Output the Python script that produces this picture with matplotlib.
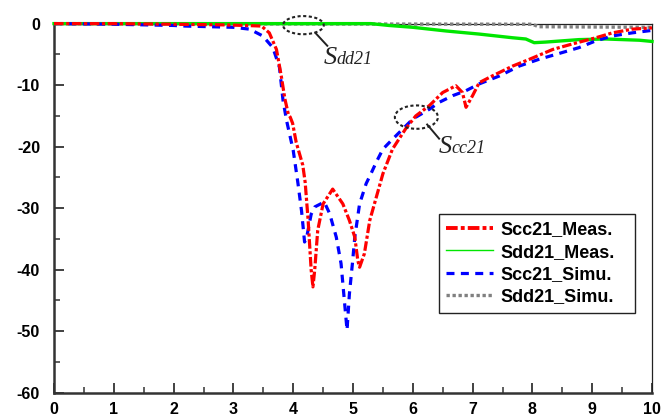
"""Mixed-mode insertion loss: measured vs simulated Scc21 / Sdd21."""

import matplotlib
matplotlib.use('Agg')
import matplotlib.pyplot as plt
from matplotlib.lines import Line2D
from matplotlib.patches import Ellipse
from matplotlib.ticker import MultipleLocator

# Scc21 measured (red dash-dot)
scc_meas_x = [0, 1, 2, 2.8, 3.2, 3.47, 3.6, 3.72, 3.80, 3.86, 3.92, 3.95, 3.99, 4.05,
              4.16, 4.2, 4.25, 4.3, 4.33, 4.36, 4.41, 4.5, 4.66, 4.83, 4.94, 5.03,
              5.08, 5.11, 5.19, 5.28, 5.39, 5.50, 5.66, 5.88, 6.05, 6.28, 6.5, 6.72,
              6.83, 6.89, 7.0, 7.11, 7.33, 7.67, 7.95, 8.34, 8.67, 9.06, 9.34, 9.67, 10]
scc_meas_y = [0, 0, -0.1, -0.2, -0.3, -0.4, -1.5, -4.2, -8.5, -12.2, -14.8, -15.2, -16.2, -19.3,
              -23, -25.8, -32, -40, -42.8, -40, -33.6, -29.3, -26.9, -29.3, -32, -34.7,
              -38.5, -39.6, -37.4, -32, -28.2, -24.4, -20.4, -17.1, -15, -13.3, -11.2, -10.1,
              -11.2, -13.6, -11.7, -9.6, -8.5, -6.9, -5.8, -4.2, -3.3, -2.3, -1.5, -0.9, -0.7]

# Sdd21 measured (green solid)
sdd_meas_x = [0, 5.3, 5.6, 6.0, 6.56, 7.11, 7.67, 7.89, 8.03, 8.22, 8.78, 9.23, 9.79, 10]
sdd_meas_y = [0, 0, -0.3, -0.6, -1.2, -1.7, -2.3, -2.5, -3.1, -3.0, -2.6, -2.5, -2.7, -2.9]

# Scc21 simulated (blue dashed)
scc_simu_x = [0, 1, 2, 2.2, 3.0, 3.27, 3.49, 3.66, 3.77, 3.83, 3.89, 4.0, 4.08, 4.14,
              4.19, 4.22, 4.3, 4.36, 4.52, 4.61, 4.72, 4.80, 4.86, 4.90, 4.94, 4.99,
              5.03, 5.11, 5.22, 5.30, 5.39, 5.5, 5.66, 6.0, 6.28, 6.44, 6.67, 6.89,
              7.11, 7.45, 7.78, 8.11, 8.5, 8.78, 9.06, 9.34, 9.67, 10]
scc_simu_y = [0, -0.1, -0.3, -0.4, -0.6, -0.9, -2, -3.9, -7.1, -12.5, -15.8, -20.6, -26, -30.5,
              -35.5, -35, -31, -29.8, -29, -30.9, -34.7, -39, -45.5, -49.8, -43.9, -39,
              -34.7, -29.3, -26, -24.4, -22.5, -20.4, -18.8, -15.5, -13.9, -12.8, -11.7, -10.9,
              -9.8, -8.5, -6.9, -5.8, -4.7, -3.9, -2.8, -2.0, -1.5, -1.1]

# Sdd21 simulated (grey dotted)
sdd_simu_x = [0, 8.0, 8.1, 10]
sdd_simu_y = [0, -0.1, -0.5, -0.6]

legend_labels = ['Scc21_Meas.', 'Sdd21_Meas.', 'Scc21_Simu.', 'Sdd21_Simu.']

RED = '#ff0000'
GREEN = '#00e600'
BLUE = '#0000ff'
GREY = '#808080'
INK = '#222222'

plt.rcParams['font.family'] = ['Liberation Sans', 'DejaVu Sans']
plt.rcParams['axes.unicode_minus'] = False

fig = plt.figure(figsize=(6.61, 4.18), dpi=100)
ax = fig.add_axes([0.0817, 0.0605, 0.9047, 0.883])

ax.plot(sdd_simu_x, sdd_simu_y, color=GREY, lw=2.4, dashes=(1, 0.8), clip_on=False, zorder=3)
ax.plot(sdd_meas_x, sdd_meas_y, color=GREEN, lw=2.4, clip_on=False, zorder=3)
ax.plot(scc_simu_x, scc_simu_y, color=BLUE, lw=2.3, dashes=(2.5, 2), clip_on=False, zorder=4)
ax.plot(scc_meas_x, scc_meas_y, color=RED, lw=2.3, dashes=(3, 0.8, 1, 0.8), clip_on=False, zorder=5)

ax.set_xlim(0, 10)
ax.set_ylim(-60, 0)
ax.xaxis.set_major_locator(MultipleLocator(1))
ax.xaxis.set_minor_locator(MultipleLocator(0.5))
ax.yaxis.set_major_locator(MultipleLocator(10))
ax.yaxis.set_minor_locator(MultipleLocator(5))
ax.tick_params(which='major', direction='in', length=7, width=1.3, color='#333333')
ax.tick_params(which='minor', direction='in', length=4, width=1.1, color='#333333')
ax.tick_params(axis='x', which='major', pad=7)
ax.tick_params(axis='y', which='major', pad=10)
for lab in ax.get_xticklabels() + ax.get_yticklabels():
    lab.set_fontweight('bold')
    lab.set_fontsize(11.5)

for side in ['left', 'bottom']:
    ax.spines[side].set_linewidth(1.8)
    ax.spines[side].set_color('#333333')
for side in ['top', 'right']:
    ax.spines[side].set_linewidth(0.9)
    ax.spines[side].set_color(INK)

# annotation ellipses and labels
ann_kw = dict(fill=False, edgecolor=INK, lw=1.5, linestyle=(0, (1.5, 1.2)), zorder=6, clip_on=False)
ax.add_patch(Ellipse((4.17, -0.25), 0.68, 2.95, **ann_kw))
ax.add_patch(Ellipse((6.06, -15.2), 0.72, 3.8, **ann_kw))
ax.plot([4.37, 4.57], [-1.5, -3.6], color=INK, lw=1.4, zorder=6)
ax.plot([6.24, 6.44], [-16.4, -18.7], color=INK, lw=1.4, zorder=6)

serif = ['Liberation Serif', 'DejaVu Serif']
ax.text(4.51, -6.6, 'S', fontsize=19, style='italic', family=serif, va='baseline', color=INK)
ax.text(4.72, -6.6, 'dd21', fontsize=13, style='italic', family=serif, va='baseline', color=INK)
ax.text(6.43, -21.1, 'S', fontsize=19, style='italic', family=serif, va='baseline', color=INK)
ax.text(6.64, -21.1, 'cc21', fontsize=13, style='italic', family=serif, va='baseline', color=INK)

handles = [
    Line2D([], [], color=RED, lw=2.8, dashes=(3, 0.8, 1, 0.8)),
    Line2D([], [], color=GREEN, lw=1.0),
    Line2D([], [], color=BLUE, lw=2.3, dashes=(2.5, 2)),
    Line2D([], [], color=GREY, lw=2.4, dashes=(1, 0.8)),
]
leg = ax.legend(handles, legend_labels, loc='upper left',
                bbox_to_anchor=(0.644, 0.221, 0.328, 0.263), mode='expand',
                fancybox=False, framealpha=1, edgecolor=INK, borderaxespad=0,
                handlelength=2.6, handletextpad=0.4, labelspacing=0.3, borderpad=0.4,
                prop={'family': 'Liberation Sans', 'weight': 'bold', 'size': 13})
leg.get_frame().set_linewidth(1.0)

fig.savefig('out.png', dpi=100)
